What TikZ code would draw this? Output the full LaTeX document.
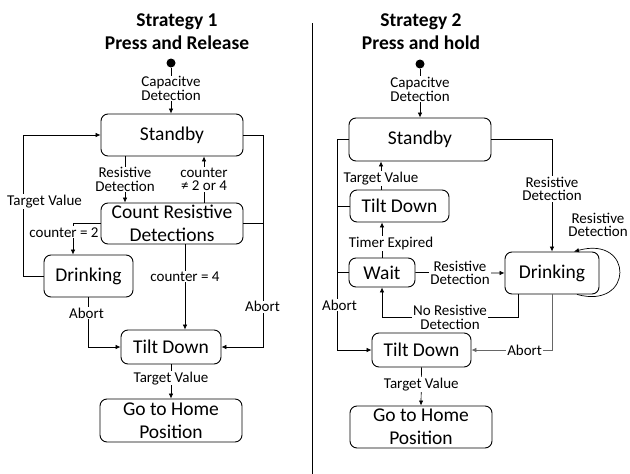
\documentclass[tikz,border=0pt]{standalone}
\usepackage{fontspec}
\setmainfont{Carlito}
\usetikzlibrary{arrows.meta}
\begin{document}
\begin{tikzpicture}[x=1pt,y=-1pt,
 box/.style={draw, rounded corners=7pt, line width=0.9pt, font=\fontsize{19.5}{23}\selectfont, align=center, inner sep=0pt},
 lbl/.style={fill=white, inner sep=0.8pt, font=\fontsize{15}{13.5}\selectfont, align=center},
 arr/.style={-{Latex[length=5pt,width=4.5pt]}, line width=0.7pt},
 ln/.style={line width=0.7pt},
 ttl/.style={font=\bfseries\fontsize{19.5}{23}\selectfont, align=center},
 dot/.style={circle, fill, inner sep=0pt, minimum size=9pt}]
\useasboundingbox (0,0) rectangle (630,474);
% divider
\draw[line width=0.9pt] (312,23) -- (312,474);

% ---------- Strategy 1 ----------
\node[ttl] (t1) at (177,31.5) {Strategy 1\\Press and Release};
\node[dot] (st1) at (171,63) {};
\node[box, minimum width=142pt, minimum height=42pt] (sb1) at (172,135) {Standby};
\node[box, minimum width=142pt, minimum height=41pt] (cnt) at (172,223.5) {Count Resistive\\Detections};
\node[box, minimum width=89pt, minimum height=42pt] (dr1) at (88.5,276) {Drinking};
\node[box, minimum width=100pt, minimum height=34pt] (td1) at (171,347) {Tilt Down};
\node[box, minimum width=142pt, minimum height=43pt] (hm1) at (171,420.5) {Go to Home\\Position};

\draw[arr] (st1) -- (st1 |- sb1.north) node[lbl, pos=0.45] {Capacitve\\Detection};
\draw[arr] ([xshift=-47pt]sb1.south) -- ([xshift=-47pt]sb1.south |- cnt.north)
  node[lbl, midway] {Resistive\\Detection};
\draw[arr] ([xshift=32pt]cnt.north) -- ([xshift=32pt]cnt.north |- sb1.south)
  node[lbl, midway] {counter\\≠ 2 or 4};
\draw[arr] (cnt.west) -| ([xshift=-15.5pt]dr1.north)
  node[lbl, pos=0.64, xshift=-9pt] {counter = 2};
\draw[arr] (dr1.west) -| ([xshift=-77pt]sb1.west)
  node[lbl, pos=0.765, xshift=21pt] {Target Value} -- (sb1.west);
\draw[arr] (dr1.south) |- (td1.west) node[lbl, pos=0.16, xshift=-2pt] {Abort};
\draw[arr] ([xshift=13pt]cnt.south) -- ([xshift=13pt]cnt.south |- td1.north)
  node[lbl, pos=0.38] {counter = 4};
\coordinate (ar1) at ([xshift=42pt]td1.east);
\draw[arr] (sb1.east) -| (ar1) node[lbl, pos=0.905, xshift=-1pt] {Abort} -- (td1.east);
\draw[ln] (cnt.east) -- (cnt.east -| ar1);
\draw[arr] (td1.south) -- (hm1.north) node[lbl, pos=0.4] {Target Value};

% ---------- Strategy 2 ----------
\node[ttl] (t2) at (421,31.5) {Strategy 2\\Press and hold};
\node[dot] (st2) at (420,64) {};
\node[box, minimum width=142pt, minimum height=43pt] (sb2) at (420,139.5) {Standby};
\node[box, minimum width=99pt, minimum height=32pt] (tu2) at (399.5,206) {Tilt Down};
\node[box, minimum width=66pt, minimum height=29pt] (wt) at (382,272.5) {Wait};
\node[box, minimum width=94pt, minimum height=42pt] (dr2) at (552,273) {Drinking};
\node[box, minimum width=99pt, minimum height=34pt] (tl2) at (421.5,350) {Tilt Down};
\node[box, minimum width=142pt, minimum height=42pt] (hm2) at (421,427) {Go to Home\\Position};

\draw[arr] (st2) -- (st2 |- sb2.north) node[lbl, pos=0.42] {Capacitve\\Detection};
\draw[arr] (sb2.east) -| (dr2.north) node[lbl, pos=0.72] {Resistive\\Detection};
\draw[arr] ([xshift=25pt]dr2.south) .. controls (634,310) and (634,235) .. ([xshift=22pt]dr2.north);
\node[lbl, fill=none] (rdl) at (598,225) {Resistive\\Detection};
\draw[arr] (wt.east) -- (dr2.west) node[lbl, pos=0.5] {Resistive\\Detection};
\draw[arr] ([xshift=-34pt]dr2.south) |- ([yshift=-30pt]wt.south)
  node[lbl, pos=0.75] {No Resistive\\Detection} -- (wt.south);
\draw[arr] (wt.north) -- (wt.north |- tu2.south) node[lbl, pos=0.4, xshift=9pt] {Timer Expired};
\draw[arr] ([xshift=-18.5pt]tu2.north) -- ([xshift=-18.5pt]tu2.north |- sb2.south)
  node[lbl, pos=0.4] {Target Value};
\coordinate (al2) at ([xshift=-34pt]tl2.west);
\draw[arr] (sb2.west) -| (al2) node[lbl, pos=0.893, xshift=2pt] {Abort} -- (tl2.west);
\draw[ln] (tu2.west) -- (tu2.west -| al2);
\draw[ln] (wt.west) -- (wt.west -| al2);
\draw[arr, black!60] (dr2.south) |- (tl2.east) node[lbl, text=black, pos=0.67] {Abort};
\draw[arr] (tl2.south) -- (hm2.north) node[lbl, pos=0.45] {Target Value};
\end{tikzpicture}
\end{document}
